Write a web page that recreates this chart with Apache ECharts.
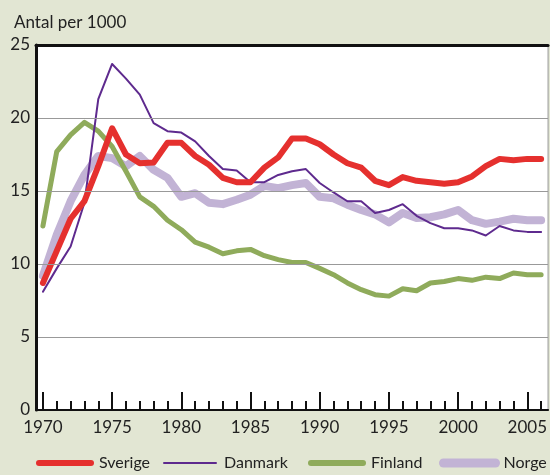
<!DOCTYPE html>
<html>
<head>
<meta charset="utf-8">
<script src="https://cdn.jsdelivr.net/npm/echarts@6/dist/echarts.min.js"></script>
<style>
html, body { margin: 0; padding: 0; background: #e2e6d3; }
#chart { width: 550px; height: 475px; }
</style>
</head>
<body>
<div id="chart"></div>
<script>
// år 1970-2006
var years = [];
for (var y = 1970; y <= 2006; y++) years.push(String(y));

// antal per 1000
var sverige = [8.7, 10.9, 13.1, 14.3, 16.7, 19.3, 17.5, 16.9, 16.95, 18.3,
               18.3, 17.4, 16.8, 15.9, 15.6, 15.6, 16.6, 17.3, 18.6, 18.6,
               18.2, 17.5, 16.9, 16.6, 15.7, 15.4, 15.95, 15.7, 15.6, 15.5,
               15.6, 16.0, 16.7, 17.2, 17.1, 17.2, 17.2];
var danmark = [8.1, 9.7, 11.2, 14.2, 21.3, 23.7, 22.7, 21.6, 19.65, 19.1,
               19.0, 18.4, 17.4, 16.5, 16.4, 15.6, 15.6, 16.1, 16.35, 16.5,
               15.55, 14.9, 14.3, 14.3, 13.5, 13.7, 14.1, 13.3, 12.8, 12.45,
               12.45, 12.3, 11.95, 12.6, 12.3, 12.2, 12.2];
var finland = [12.6, 17.7, 18.85, 19.7, 19.1, 18.05, 16.35, 14.6, 13.95, 13.0,
               12.35, 11.5, 11.15, 10.7, 10.9, 11.0, 10.57, 10.3, 10.1, 10.1,
               9.7, 9.27, 8.7, 8.24, 7.9, 7.8, 8.3, 8.17, 8.7, 8.8,
               9.0, 8.88, 9.1, 9.0, 9.38, 9.27, 9.27];
var norge   = [9.2, 12.0, 14.3, 16.1, 17.4, 17.25, 16.7, 17.4, 16.45, 15.9,
               14.6, 14.85, 14.2, 14.1, 14.4, 14.75, 15.35, 15.2, 15.4, 15.55,
               14.6, 14.5, 14.06, 13.7, 13.4, 12.85, 13.5, 13.15, 13.2, 13.4,
               13.7, 13.0, 12.75, 12.9, 13.1, 13.0, 13.0];

var mycharts = echarts.init(document.getElementById('chart'));

function lineSerie(name, data, color, width) {
    return {
        name: name,
        type: 'line',
        data: data,
        symbol: 'none',
        lineStyle: { color: color, width: width, cap: 'round', join: 'round' },
        itemStyle: { color: color }
    };
}

// en legend per serie så att var och en hamnar rätt
function legendItem(name, left, width) {
    return {
        left: left,
        top: 455,
        padding: 0,
        itemWidth: 52,
        itemHeight: 14,
        itemStyle: { opacity: 0 },
        textStyle: { fontSize: 16, color: '#222', padding: [0, 0, 0, 3] },
        data: [{ name: name, lineStyle: { width: width, cap: 'round' } }]
    };
}

var optionObj = {
    backgroundColor: '#e2e6d3',
    textStyle: { fontFamily: 'Lato' },
    title: {
        text: 'Antal per 1000',
        left: 9,
        top: 9,
        textStyle: { fontSize: 17, fontWeight: 'normal', color: '#222' }
    },
    grid: {
        left: 36, right: 1, top: 45, bottom: 65, z: -1,
        show: true, backgroundColor: '#fff', borderColor: '#999', borderWidth: 1
    },
    legend: [
        legendItem('Sverige', 36, 6),
        legendItem('Danmark', 163, 2),
        legendItem('Finland', 308, 6),
        legendItem('Norge', 439, 9)
    ],
    xAxis: [
        {
            type: 'category', data: years, position: 'bottom', z: 5,
            axisLine: { lineStyle: { color: '#111', width: 2 } },
            axisTick: { show: true, inside: true, alignWithLabel: true, interval: 0, length: 9,
                        lineStyle: { color: '#111', width: 2 } },
            axisLabel: { interval: 4, fontSize: 17, color: '#222', margin: 9 }
        },
        {
            // långa streck vart femte år
            type: 'category', data: years, position: 'bottom', z: 5,
            axisLine: { show: false },
            axisTick: { show: true, inside: true, alignWithLabel: true, interval: 4, length: 18,
                        lineStyle: { color: '#111', width: 2 } },
            axisLabel: { show: false }
        },
        {
            type: 'category', data: years, position: 'top', z: 5,
            axisLine: { lineStyle: { color: '#111', width: 3 } },
            axisTick: { show: false },
            axisLabel: { show: false }
        }
    ],
    yAxis: {
        type: 'value', min: 0, max: 25, interval: 5, z: 5,
        axisLine: { show: true, lineStyle: { color: '#111', width: 3 } },
        axisTick: { show: false },
        axisLabel: { fontSize: 17, color: '#222', margin: 6 },
        splitLine: { lineStyle: { color: '#999', width: 1 } }
    },
    series: [
        lineSerie('Norge', norge, '#c2b3d5', 8),
        lineSerie('Finland', finland, '#8fab5b', 5),
        lineSerie('Danmark', danmark, '#5e2a8e', 2),
        lineSerie('Sverige', sverige, '#e5302e', 6)
    ]
};

mycharts.setOption(optionObj);
</script>
</body>
</html>
